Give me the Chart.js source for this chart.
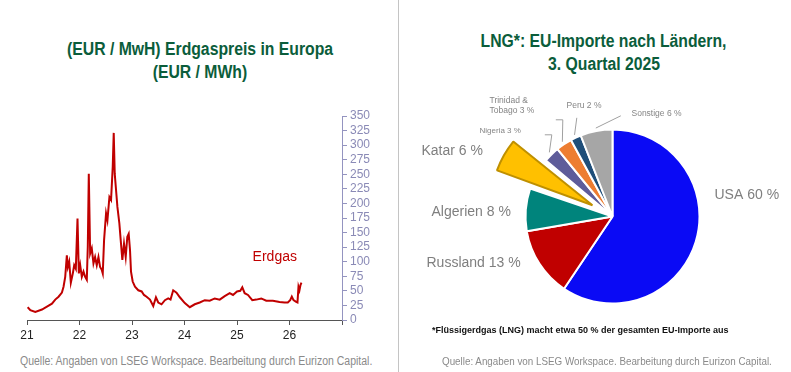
<!DOCTYPE html>
<html>
<head>
<meta charset="utf-8">
<script src="https://cdn.jsdelivr.net/npm/chart.js@4.4.1/dist/chart.umd.min.js"></script>
<style>
  body { margin: 0; width: 791px; height: 372px; background: #fff; position: relative; overflow: hidden; font-family: 'Liberation Sans', Arial, sans-serif; }
  .title { position: absolute; text-align: center; color: #0b5d3b; font-weight: bold; font-size: 18px; line-height: 23px; }
  .title span { display: inline-block; transform: scaleX(0.875); white-space: nowrap; }
  .src { position: absolute; color: #8a8a8a; font-size: 12px; white-space: nowrap; transform-origin: left center; }
  #divider { position: absolute; left: 398px; top: 0; width: 1px; height: 372px; background: #c4c4c4; }
  #foot { position: absolute; left: 432px; top: 325px; font-weight: bold; font-size: 9px; color: #111; white-space: nowrap; }
  canvas { position: absolute; }
</style>
</head>
<body>
<div class="title" style="left:0; width:400px; top:38px;"><span>(EUR / MwH) Erdgaspreis in Europa</span><br><span>(EUR / MWh)</span></div>
<div class="title" style="left:417px; width:374px; top:30px;"><span>LNG*: EU-Importe nach Ländern,</span><br><span>3. Quartal 2025</span></div>
<div id="divider"></div>
<div style="position:absolute; left:0; top:100px; width:400px; height:240px;"><canvas id="gas"></canvas></div>
<div style="position:absolute; left:400px; top:0; width:391px; height:372px;"><canvas id="lng"></canvas></div>
<div id="foot">*Flüssigerdgas (LNG) macht etwa 50 % der gesamten EU-Importe aus</div>
<div class="src" style="left:20px; top:354px; transform: scaleX(0.875);">Quelle: Angaben von LSEG Workspace. Bearbeitung durch Eurizon Capital.</div>
<div class="src" style="left:442px; top:355px; font-size:11.3px; transform: scaleX(0.87);">Quelle: Angaben von LSEG Workspace. Bearbeitung durch Eurizon Capital.</div>
<script>
// Erdgaspreis (TTF), EUR/MWh, decimal years (21 = 2021)
const gasDates = [21.013, 21.063, 21.158, 21.285, 21.380, 21.475, 21.538, 21.601, 21.665, 21.696,
  21.728, 21.759, 21.778, 21.804, 21.835, 21.873, 21.899, 21.930, 21.962, 21.987,
  22.013, 22.044, 22.076, 22.108, 22.139, 22.158, 22.177, 22.203, 22.234, 22.266,
  22.297, 22.329, 22.361, 22.392, 22.424, 22.443, 22.468, 22.506, 22.532, 22.570,
  22.601, 22.633, 22.652, 22.671, 22.696, 22.722, 22.759, 22.785, 22.816, 22.848,
  22.880, 22.911, 22.937, 22.962, 22.981, 23.013, 23.057, 23.120, 23.184, 23.228,
  23.278, 23.342, 23.405, 23.456, 23.500, 23.563, 23.627, 23.690, 23.734, 23.785,
  23.848, 23.911, 24.006, 24.101, 24.196, 24.291, 24.386, 24.481, 24.576, 24.671,
  24.766, 24.861, 24.924, 25.000, 25.063, 25.101, 25.146, 25.209, 25.291, 25.367,
  25.462, 25.557, 25.684, 25.810, 25.905, 25.968, 26.013, 26.044, 26.076, 26.127,
  26.152, 26.171, 26.190, 26.209, 26.228];
const gasPrices = [22, 17, 14, 18, 23, 28, 35, 40, 47, 57,
  74, 111, 91, 100, 64, 80, 94, 88, 174, 80,
  94, 74, 83, 74, 69, 126, 251, 114, 123, 97,
  108, 94, 108, 91, 86, 80, 137, 183, 171, 211,
  206, 263, 321, 251, 223, 194, 166, 137, 103, 131,
  108, 143, 148, 120, 83, 66, 57, 51, 49, 43,
  40, 35, 24, 39, 30, 27, 34, 37, 35, 51,
  47, 39, 29, 22, 27, 30, 34, 33, 37, 35,
  41, 46, 43, 49, 50, 56, 46, 43, 34, 35,
  37, 33, 33, 31, 30, 30, 34, 40, 34, 31,
  30, 57, 51, 60, 64];
const yearTicks = ['21', '22', '23', '24', '25', '26'];

// LNG-Importe Q3 2025, Anteil in %
const lngCountries = ['USA', 'Russland', 'Algerien', 'Katar', 'Nigeria', 'Trinidad & Tobago', 'Peru', 'Sonstige'];
const lngShares = [60, 13, 8, 6, 3, 3, 2, 6];
const lngColors = ['#0a0af5', '#c00000', '#00847c', '#ffc000', '#5e5c9a', '#ed7d31', '#1f4e79', '#a6a6a6'];

const sans = "'Liberation Sans', Arial, sans-serif";
const lavender = '#9494c0';

const erdgasLabel = {
  id: 'erdgasLabel',
  afterDraw(chart) {
    const {ctx, scales} = chart;
    ctx.save();
    ctx.font = '14px ' + sans;
    ctx.fillStyle = '#c00000';
    ctx.textAlign = 'center';
    ctx.textBaseline = 'middle';
    ctx.fillText('Erdgas', scales.x.getPixelForValue(25.72), scales.y.getPixelForValue(107));
    ctx.restore();
  }
};

new Chart(document.getElementById('gas'), {
  type: 'line',
  data: {
    datasets: [{
      label: 'Erdgas',
      data: gasDates.map((d, i) => ({x: d, y: gasPrices[i]})),
      borderColor: '#c00000',
      borderWidth: 2,
      pointRadius: 0,
      tension: 0
    }]
  },
  options: {
    responsive: true,
    maintainAspectRatio: false,
    animation: false,
    layout: { padding: { left: 27, top: 16, right: 0, bottom: 0 } },
    plugins: { legend: { display: false }, tooltip: { enabled: false } },
    scales: {
      x: {
        type: 'linear',
        min: 21, max: 27,
        afterFit(s) { s.height = 20; },
        grid: { display: true, drawOnChartArea: false, drawTicks: true, tickLength: 5, color: '#555' },
        border: { display: true, color: '#555' },
        ticks: {
          stepSize: 1,
          color: '#222',
          font: { family: sans, size: 12 },
          callback: v => yearTicks.includes(String(v)) ? String(v) : ''
        }
      },
      y: {
        position: 'right',
        min: 0, max: 350,
        afterFit(s) { s.width = 58; },
        grid: { display: true, drawOnChartArea: false, drawTicks: true, tickLength: 5, color: lavender },
        border: { display: true, color: lavender },
        ticks: {
          stepSize: 25,
          autoSkip: false,
          color: '#8a8ab6',
          padding: 3,
          font: { family: sans, size: 12 }
        }
      }
    }
  },
  plugins: [erdgasLabel]
});

// label placement relative to pie centre
const labelLayout = [
  { dx: 102, dy: -21, size: 14, lines: ['USA 60 %'] },
  { dx: -186, dy: 47, size: 14, lines: ['Russland 13 %'] },
  { dx: -181, dy: -4, size: 14, lines: ['Algerien 8 %'] },
  { dx: -191, dy: -65, size: 14, lines: ['Katar 6 %'] },
  { dx: -133, dy: -86, size: 8, lines: ['Nigeria 3 %'], lead: [[-67.7, -81.7], [-60.7, -81.7]] },
  { dx: -123, dy: -116, size: 8.5, lines: ['Trinidad &', 'Tobago 3 %'], lead: [[-56.7, -96.7], [-49.7, -96.7]] },
  { dx: -46, dy: -111, size: 8.5, lines: ['Peru 2 %'], lead: [[-35.7, -98.7]] },
  { dx: 19, dy: -103, size: 8.5, lines: ['Sonstige 6 %'], lead: [[8.3, -100.7]] }
];

const pieLabels = {
  id: 'pieLabels',
  afterDraw(chart) {
    const {ctx} = chart;
    const arcs = chart.getDatasetMeta(0).data;
    ctx.save();
    arcs.forEach((arc, i) => {
      const L = labelLayout[i];
      const cx = arc.x, cy = arc.y;
      if (L.lead) {
        const mid = (arc.startAngle + arc.endAngle) / 2;
        const r = arc.outerRadius + 3;
        ctx.strokeStyle = '#a0a0a0';
        ctx.lineWidth = 1;
        ctx.beginPath();
        ctx.moveTo(cx + L.lead[0][0], cy + L.lead[0][1]);
        for (let k = 1; k < L.lead.length; k++) ctx.lineTo(cx + L.lead[k][0], cy + L.lead[k][1]);
        ctx.lineTo(cx + Math.cos(mid) * r, cy + Math.sin(mid) * r);
        ctx.stroke();
      }
      ctx.font = L.size + 'px ' + sans;
      ctx.fillStyle = L.size > 10 ? '#7f7f7f' : '#858585';
      ctx.textAlign = 'left';
      ctx.textBaseline = 'middle';
      L.lines.forEach((t, k) => ctx.fillText(t, cx + L.dx, cy + L.dy + k * (L.size + 2)));
    });
    ctx.restore();
  }
};

new Chart(document.getElementById('lng'), {
  type: 'pie',
  data: {
    labels: lngCountries,
    datasets: [{
      data: lngShares,
      backgroundColor: lngColors,
      borderColor: ['#fff', '#fff', '#fff', '#bf9000', '#fff', '#fff', '#fff', '#fff'],
      borderWidth: 2,
      offset: [0, 0, 0, 92, 0, 0, 0, 0]
    }]
  },
  options: {
    responsive: true,
    maintainAspectRatio: false,
    animation: false,
    radius: 87,
    layout: { padding: { left: 34, right: 0, top: 61, bottom: 0 } },
    plugins: { legend: { display: false }, tooltip: { enabled: false } }
  },
  plugins: [pieLabels]
});
</script>
</body>
</html>
